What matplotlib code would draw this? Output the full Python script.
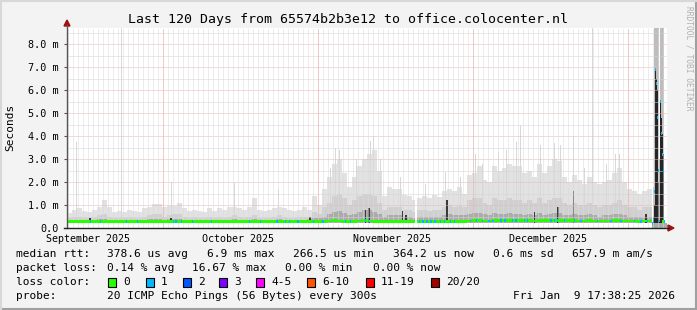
import numpy as np
import matplotlib
matplotlib.use("Agg")
import matplotlib.pyplot as plt
from matplotlib.patches import Polygon, Rectangle
from matplotlib.lines import Line2D

W, H = 697, 310
MONO = "DejaVu Sans Mono"

title = "Last 120 Days from 65574b2b3e12 to office.colocenter.nl"

# x axis is days since start of the graph (Sep 11 17:38)
month_labels = ["September 2025", "October 2025", "November 2025", "December 2025"]
month_label_days = [4.2, 34.1, 65.0, 96.2]
major_vline_days = [19.1, 50.1, 81.1, 112.2]

ytick_vals = [0, 1, 2, 3, 4, 5, 6, 7, 8]
ytick_labels = ["0.0", "1.0 m", "2.0 m", "3.0 m", "4.0 m", "5.0 m", "6.0 m", "7.0 m", "8.0 m"]

# smoke per day (ms): top of light grey, medium grey, dark grey
smoke_max = [0.65, 0.8, 0.85, 0.75, 0.7, 0.8, 0.9, 1.2, 0.9, 0.7,
             0.75, 0.7, 0.8, 0.75, 0.7, 0.85, 0.9, 1.05, 1.05, 0.9,
             0.95, 0.95, 1.1, 0.85, 0.75, 0.8, 0.75, 0.7, 0.85, 0.75,
             0.85, 0.78, 0.93, 0.9, 0.85, 0.78, 0.93, 1.3, 0.8, 0.75,
             0.8, 0.85, 0.9, 0.85, 0.8, 0.75, 0.8, 0.9, 0.8, 1.4,
             1.0, 1.7, 2.2, 2.8, 3.0, 2.4, 1.8, 2.2, 2.7, 3.0,
             3.2, 3.4, 2.5, 1.4, 1.8, 1.7, 1.7, 1.45, 1.4, 1.2,
             1.3, 1.4, 1.3, 1.45, 1.35, 1.6, 1.7, 1.6, 1.8, 1.5,
             2.3, 2.4, 2.7, 2.1, 2.0, 2.7, 2.5, 2.6, 2.8, 2.7,
             2.7, 2.4, 2.5, 2.2, 2.8, 2.4, 2.7, 3.0, 2.9, 2.2,
             2.0, 2.3, 2.1, 1.9, 2.2, 2.0, 1.9, 2.0, 2.1, 2.4,
             2.6, 2.0, 1.7, 1.6, 1.5, 1.6, 1.7, 0.0, 0.0, 0.0]

smoke_mid = [0.45, 0.5, 0.5, 0.45, 0.45, 0.5, 0.55, 0.6, 0.5, 0.45,
             0.45, 0.45, 0.5, 0.45, 0.45, 0.5, 0.55, 0.6, 0.6, 0.5,
             0.55, 0.6, 0.6, 0.5, 0.45, 0.5, 0.45, 0.45, 0.5, 0.45,
             0.5, 0.45, 0.5, 0.55, 0.5, 0.45, 0.5, 0.55, 0.45, 0.45,
             0.45, 0.5, 0.55, 0.5, 0.45, 0.45, 0.5, 0.5, 0.5, 0.7,
             0.6, 0.9, 1.1, 1.4, 1.5, 1.3, 1.0, 1.2, 1.4, 1.5,
             1.5, 1.4, 1.1, 0.8, 0.9, 0.9, 0.9, 0.8, 0.8, 0.7,
             0.8, 0.8, 0.75, 0.8, 0.8, 0.9, 1.0, 0.9, 0.95, 0.9,
             1.2, 1.3, 1.3, 1.1, 1.0, 1.3, 1.2, 1.2, 1.3, 1.2,
             1.2, 1.1, 1.2, 1.1, 1.3, 1.1, 1.2, 1.3, 1.3, 1.1,
             1.0, 1.1, 1.0, 1.0, 1.1, 1.0, 0.9, 1.0, 1.0, 1.1,
             1.2, 1.0, 0.9, 0.9, 0.8, 0.9, 0.9, 0.0, 0.0, 0.0]

smoke_low = [0.35, 0.36, 0.36, 0.35, 0.36, 0.36, 0.38, 0.4, 0.36, 0.35,
             0.35, 0.35, 0.36, 0.35, 0.35, 0.36, 0.38, 0.4, 0.4, 0.36,
             0.38, 0.4, 0.4, 0.36, 0.35, 0.36, 0.35, 0.35, 0.36, 0.35,
             0.36, 0.35, 0.36, 0.38, 0.36, 0.35, 0.36, 0.38, 0.35, 0.35,
             0.35, 0.36, 0.38, 0.36, 0.35, 0.35, 0.36, 0.36, 0.38, 0.45,
             0.42, 0.5, 0.6, 0.7, 0.75, 0.65, 0.55, 0.6, 0.7, 0.8,
             0.8, 0.7, 0.6, 0.5, 0.55, 0.55, 0.55, 0.5, 0.5, 0.45,
             0.5, 0.5, 0.48, 0.5, 0.5, 0.55, 0.6, 0.55, 0.55, 0.55,
             0.6, 0.65, 0.65, 0.6, 0.55, 0.65, 0.6, 0.6, 0.65, 0.6,
             0.6, 0.55, 0.6, 0.55, 0.65, 0.55, 0.6, 0.65, 0.65, 0.55,
             0.55, 0.6, 0.55, 0.55, 0.6, 0.55, 0.5, 0.55, 0.55, 0.6,
             0.6, 0.55, 0.5, 0.5, 0.48, 0.5, 0.5, 0.0, 0.0, 0.0]

median = [0.27, 0.27, 0.27, 0.27, 0.27, 0.27, 0.27, 0.27, 0.27, 0.27,
          0.27, 0.27, 0.27, 0.27, 0.27, 0.27, 0.27, 0.27, 0.27, 0.27,
          0.27, 0.27, 0.27, 0.27, 0.27, 0.27, 0.27, 0.27, 0.27, 0.27,
          0.27, 0.27, 0.27, 0.27, 0.27, 0.27, 0.27, 0.27, 0.27, 0.27,
          0.27, 0.27, 0.27, 0.27, 0.27, 0.27, 0.27, 0.27, 0.27, 0.28,
          0.28, 0.29, 0.3, 0.31, 0.3, 0.29, 0.28, 0.29, 0.3, 0.31,
          0.3, 0.29, 0.28, 0.27, 0.27, 0.27, 0.27, 0.27, 0.27, 0.27,
          0.27, 0.27, 0.27, 0.27, 0.27, 0.28, 0.28, 0.28, 0.29, 0.29,
          0.3, 0.31, 0.31, 0.3, 0.3, 0.31, 0.31, 0.31, 0.32, 0.31,
          0.31, 0.31, 0.31, 0.3, 0.32, 0.31, 0.31, 0.32, 0.32, 0.31,
          0.31, 0.31, 0.3, 0.3, 0.31, 0.3, 0.3, 0.3, 0.3, 0.31,
          0.31, 0.3, 0.3, 0.3, 0.29, 0.3, 0.3, 0.0, 0.0, 0.28]

# thin isolated smoke spikes (day, top in ms)
spike_days = [1.8, 10.7, 20.8, 33.4, 42.2, 52.6, 53.6, 54.4, 57.8, 60.6, 61.2, 62.5,
              66.5, 71.5, 75.6, 78.5, 81.6, 83.0, 86.2, 87.8, 89.7, 90.6, 94.6,
              97.4, 98.6, 101.2, 103.4, 104.9, 107.8, 109.5, 110.4]
spike_tops = [3.75, 9.0, 2.0, 1.95, 1.7, 2.6, 3.5, 3.4, 3.0, 3.8, 4.0, 3.0,
              2.2, 1.9, 2.45, 2.2, 3.2, 2.8, 3.3, 3.4, 3.75, 4.5, 3.6,
              3.7, 3.6, 4.0, 2.6, 9.0, 2.8, 3.2, 3.2]

# dark dense smoke columns (day, top in ms)
dark_days = [4.4, 20.6, 48.4, 59.5, 60.2, 66.9, 67.6, 75.8, 93.3, 98.0, 101.1, 115.6]
dark_tops = [0.42, 0.42, 0.5, 0.8, 0.85, 0.75, 0.55, 1.2, 0.7, 0.9, 1.6, 0.6]

# samples with 1 lost ping (blue on the median line)
loss1_days = [4.5, 6.5, 11.7, 13.9, 21.1, 21.6, 22.7, 24.9, 28.7, 36.3, 38.5,
              41.8, 43.5, 44.3, 46.0, 49.1, 51.0, 55.5, 56.5, 59.5, 60.1,
              70.3, 71.0, 71.8, 72.6, 73.4, 74.5, 75.3, 76.5, 77.3, 80.5,
              81.7, 82.9, 84.2, 85.0, 86.6, 87.4, 88.9, 89.6, 91.3, 91.9,
              96.6, 97.3, 97.9, 99.3, 101.3, 102.6, 105.9, 108.6, 110.6,
              113.3, 114.6, 115.9, 116.9]

# no data gap
gap_start, gap_end = 69.6, 70.0

# burst at the end, one pixel per sample
burst_days = [117.2, 117.4, 117.6, 117.8, 118.0, 118.2, 118.4, 118.6, 118.8, 119.0, 119.2, 119.4]
burst_max = [1.8, 9.0, 9.0, 9.0, 9.0, 9.0, 3.0, 9.0, 9.0, 9.0, 9.0, 0.35]
burst_dark = [0.5, 1.0, 6.9, 6.5, 6.0, 2.0, 0.3, 5.5, 4.8, 4.1, 3.2, 0.3]
burst_median = [0.35, 1.6, 6.9, 6.3, 4.8, 2.5, 0.3, 5.5, 4.1, 3.2, 2.5, 0.28]

loss_labels = ["0", "1", "2", "3", "4-5", "6-10", "11-19", "20/20"]
loss_colors = ["#26ff00", "#00b8ff", "#0059ff", "#7e00ff", "#ff00ff", "#ff5500", "#ff0000", "#a10000"]
loss_box_x = [108, 146, 183, 219, 256, 307, 366, 431]

legend_rows = [
    [(16, "median rtt:"), (107, "378.6 us avg"), (207, "6.9 ms max"), (293, "266.5 us min"),
     (393, "364.2 us now"), (493, "0.6 ms sd"), (572, "657.9 m am/s")],
    [(16, "packet loss:"), (107, "0.14 % avg"), (192, "16.67 % max"), (285, "0.00 % min"),
     (373, "0.00 % now")],
    [(16, "loss color:")],
    [(16, "probe:"), (107, "20 ICMP Echo Pings (56 Bytes) every 300s"), (513, "Fri Jan  9 17:38:25 2026")],
]
legend_y = [254, 268, 282, 296]


def fx(x):
    return x / W


def fy(y):
    return 1 - y / H


fig = plt.figure(figsize=(W / 100, H / 100), dpi=100)
fig.patch.set_facecolor("#f3f3f3")

ax = fig.add_axes([fx(67), fy(228), 600 / W, 200 / H])
ax.set_xlim(0, 120)
ax.set_ylim(0, 8.7)
ax.set_facecolor("white")
for s in ax.spines.values():
    s.set_visible(False)

days = np.arange(120)
med = np.array(median)
ax.bar(days, np.array(smoke_max) - 0.22, bottom=0.22, width=1, align="edge",
       color="#e2e2e2", linewidth=0, zorder=1)
ax.bar(spike_days, np.array(spike_tops) - 0.22, bottom=0.22, width=0.22, align="edge",
       color="#d8d8d8", linewidth=0, zorder=1.5)
ax.bar(days, np.array(smoke_mid) - 0.22, bottom=0.22, width=1, align="edge",
       color="#d0d0d0", linewidth=0, zorder=2)
ax.bar(days, np.array(smoke_low) - 0.22, bottom=0.22, width=1, align="edge",
       color="#ababab", linewidth=0, zorder=3)
ax.bar(dark_days, np.array(dark_tops) - 0.22, bottom=0.22, width=0.3, align="edge",
       color="#3a3a3a", linewidth=0, zorder=3)

# burst at the end
ax.bar(burst_days, np.array(burst_max) - 0.22, bottom=0.22, width=0.2, align="edge",
       color="#bdbdbd", linewidth=0, zorder=3)
ax.bar(burst_days, np.array(burst_dark) - 0.22, bottom=0.22, width=0.2, align="edge",
       color="#262626", linewidth=0, zorder=3)

ax.axvspan(gap_start, gap_end, color="white", lw=0, zorder=3.5)

# grid
for y in np.arange(0.5, 8.7, 0.5):
    major = abs(y - round(y)) < 1e-6
    ax.axhline(y, color="#f2b0b0" if major else "#d4d4d4", lw=0.72,
               ls=(0, (1, 1)), zorder=4)
for d in np.arange(0.1, 120, 1.0):
    ax.axvline(d, color="#dadada", lw=0.72, ls=(0, (1, 1)), zorder=4)
for d in major_vline_days:
    ax.axvline(d, color="#f2a8a8", lw=0.72, ls=(0, (1, 1)), zorder=4.1)

# median line
band = 0.12
ax.bar(days[:117], [band] * 117, bottom=med[:117] - band / 2, width=1, align="edge",
       color=loss_colors[0], linewidth=0, zorder=5)
ax.bar([119], [band], bottom=[0.28 - band / 2], width=0.4, align="edge",
       color=loss_colors[0], linewidth=0, zorder=5)
loss_med = np.interp(loss1_days, days + 0.5, med)
ax.bar(loss1_days, [band] * len(loss1_days), bottom=loss_med - band / 2, width=0.3,
       align="edge", color=loss_colors[1], linewidth=0, zorder=6)
ax.bar(burst_days, [band] * len(burst_days), bottom=np.array(burst_median) - band / 2,
       width=0.2, align="edge", color=loss_colors[1], linewidth=0, zorder=6)
ax.axvspan(gap_start, gap_end, ymax=0.06, color="white", lw=0, zorder=6.5)

ax.set_yticks(ytick_vals)
ax.set_yticklabels(ytick_labels, family=MONO, fontsize=7.3)
ax.set_xticks(month_label_days)
ax.set_xticklabels(month_labels, family=MONO, fontsize=7.2)
ax.tick_params(axis="x", length=0, pad=4)
ax.tick_params(axis="y", length=2, width=0.8, color="#555555", pad=4)

# axes lines with arrows
fig.add_artist(Line2D([fx(67), fx(67)], [fy(228), fy(25)], color="#555555", lw=1.0))
fig.add_artist(Line2D([fx(64), fx(669)], [fy(228), fy(228)], color="#222222", lw=1.0))
fig.add_artist(Polygon([[fx(64), fy(26)], [fx(70), fy(26)], [fx(67), fy(20)]],
                       closed=True, color="#a01010", transform=fig.transFigure))
fig.add_artist(Polygon([[fx(668), fy(225)], [fx(668), fy(231)], [fx(674), fy(228)]],
                       closed=True, color="#a01010", transform=fig.transFigure))

fig.text(fx(348.5), fy(19), title, family=MONO, fontsize=9.5, ha="center", va="center")
fig.text(fx(10), fy(127), "Seconds", family=MONO, fontsize=8, rotation=90,
         ha="center", va="center")
fig.text(fx(688.5), fy(58), "RRDTOOL / TOBI OETIKER", family=MONO, fontsize=5.7,
         rotation=270, ha="center", va="center", color="#b0b0b0")

for row, y in zip(legend_rows, legend_y):
    for x, s in row:
        fig.text(fx(x), fy(y), s, family=MONO, fontsize=8, ha="left", va="center")

for x, lab, col in zip(loss_box_x, loss_labels, loss_colors):
    fig.add_artist(Rectangle((fx(x), fy(287)), 8 / W, 9 / H, facecolor=col,
                             edgecolor="black", lw=0.8, transform=fig.transFigure))
    fig.text(fx(x + 15), fy(282), lab, family=MONO, fontsize=8, ha="left", va="center")

# frame
fig.add_artist(Line2D([0, 1], [fy(309), fy(309)], color="#a0a0a0", lw=1.5))
fig.add_artist(Line2D([fx(696), fx(696)], [0, 1], color="#a0a0a0", lw=1.5))
fig.add_artist(Line2D([0, 1], [fy(0.5), fy(0.5)], color="#d8d8d8", lw=1.5))
fig.add_artist(Line2D([fx(0.5), fx(0.5)], [0, 1], color="#d8d8d8", lw=1.5))

fig.savefig("out.png", dpi=100, facecolor=fig.get_facecolor())
